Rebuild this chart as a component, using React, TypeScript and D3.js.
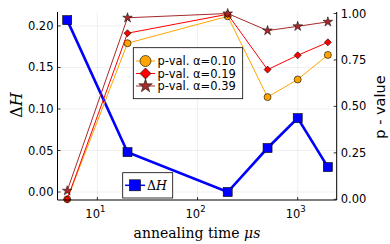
import React from 'react';
import * as d3 from 'd3';

// annealing times (µs)
const times = [5, 20, 200, 500, 1000, 2000];
const deltaH = [0.207, 0.048, 0.0, 0.053, 0.089, 0.030];
const pAlpha010 = [0.0, 0.84, 0.985, 0.55, 0.645, 0.777];
const pAlpha019 = [0.0, 0.894, 0.996, 0.698, 0.775, 0.845];
const pAlpha039 = [0.046, 0.977, 1.0, 0.908, 0.931, 0.955];
const leftTicks = [0.0, 0.05, 0.1, 0.15, 0.2];
const rightTicks = [0.0, 0.25, 0.5, 0.75, 1.0];
const xTicks = [10, 100, 1000];

const W = 390;
const H = 244;
const sans = 'DejaVu Sans, sans-serif';
const serif = 'DejaVu Serif, serif';

const left = 57.5, right = 336.7, top = 12, bottom = 200;

const x = d3.scaleLog().domain([4.0, 2450]).range([left, right]);
const yL = d3.scaleLinear().domain([-0.0096, 0.2168]).range([bottom, top]);
const yR = d3.scaleLinear().domain([0, 1]).range([199.3, 13.5]);

const pSeries = [
  { name: 'p-val. α=0.10', values: pAlpha010, color: '#FFA500', shape: 'circle' },
  { name: 'p-val. α=0.19', values: pAlpha019, color: '#FF0000', shape: 'diamond' },
  { name: 'p-val. α=0.39', values: pAlpha039, color: '#A52A2A', shape: 'star' },
];

function Marker({ shape, cx, cy, color, s }: { shape: string; cx: number; cy: number; color: string; s: number }) {
  if (shape === 'circle') {
    return <circle cx={cx} cy={cy} r={s / 2} fill={color} stroke="#000" strokeWidth={0.6} />;
  }
  if (shape === 'diamond') {
    const h = s / 2;
    return (
      <path
        d={`M${cx},${cy - h}L${cx + h},${cy}L${cx},${cy + h}L${cx - h},${cy}Z`}
        fill={color}
        stroke="#000"
        strokeWidth={0.6}
      />
    );
  }
  if (shape === 'square') {
    const h = s / 2;
    return <rect x={cx - h} y={cy - h} width={s} height={s} fill={color} stroke="#000" strokeWidth={0.6} />;
  }
  const star = d3.symbol().type(d3.symbolStar).size(s * s * 0.4)();
  return <path d={star || ''} transform={`translate(${cx},${cy})`} fill={color} stroke="#000" strokeWidth={0.5} />;
}

export default function App() {
  const lineL = d3.line<number>().x((_, i) => x(times[i])).y((d) => yL(d));
  const lineR = d3.line<number>().x((_, i) => x(times[i])).y((d) => yR(d));

  return (
    <div style={{ position: 'fixed', left: 0, top: 0 }}>
      <svg width={W} height={H} style={{ display: 'block', background: '#fff' }}>
        {/* grid */}
        {xTicks.map((t) => (
          <line key={'gx' + t} x1={x(t)} x2={x(t)} y1={top} y2={bottom} stroke="#000" strokeOpacity={0.1} strokeWidth={0.6} />
        ))}
        {leftTicks.map((t) => (
          <line key={'gy' + t} x1={left} x2={right} y1={yL(t)} y2={yL(t)} stroke="#000" strokeOpacity={0.1} strokeWidth={0.6} />
        ))}

        {/* ΔH series */}
        <path d={lineL(deltaH) || ''} fill="none" stroke="#0000FF" strokeWidth={2.6} />
        {deltaH.map((d, i) => (
          <Marker key={'dh' + i} shape="square" cx={x(times[i])} cy={yL(d)} color="#0000FF" s={9} />
        ))}

        {/* ΔH legend */}
        <rect x={122.7} y={172.7} width={50} height={25.3} fill="#fff" stroke="#000" strokeWidth={0.8} />
        <line x1={125} x2={145} y1={185.3} y2={185.3} stroke="#0000FF" strokeWidth={1.5} />
        <Marker shape="square" cx={135} cy={185.3} color="#0000FF" s={11} />
        <text x={147} y={190} fontFamily={serif} fontSize={12.5}>
          Δ<tspan fontStyle="italic">H</tspan>
        </text>

        {/* p-value series */}
        {pSeries.map((s) => (
          <g key={s.name}>
            <path d={lineR(s.values) || ''} fill="none" stroke={s.color} strokeWidth={1} />
            {s.values.map((v, i) => (
              <Marker key={i} shape={s.shape} cx={x(times[i])} cy={yR(v)} color={s.color} s={s.shape === 'star' ? 8.5 : 7} />
            ))}
          </g>
        ))}

        {/* p-value legend */}
        <rect x={133.3} y={47.7} width={109.4} height={51} fill="#fff" stroke="#000" strokeWidth={0.8} />
        {pSeries.map((s, i) => {
          const cy = 61 + i * 12.5;
          return (
            <g key={'leg' + i}>
              <line x1={136} x2={155} y1={cy} y2={cy} stroke={s.color} strokeWidth={1} />
              <Marker shape={s.shape} cx={145.5} cy={cy} color={s.color} s={s.shape === 'star' ? 12 : 11} />
              <text x={157.5} y={cy + 4} fontFamily={sans} fontSize={11.5}>
                {s.name}
              </text>
            </g>
          );
        })}

        {/* axes */}
        <line x1={left} x2={left} y1={top} y2={bottom} stroke="#000" strokeWidth={1} />
        <line x1={left} x2={right} y1={bottom} y2={bottom} stroke="#000" strokeWidth={1} />
        <line x1={right} x2={right} y1={top} y2={bottom} stroke="#000" strokeWidth={1} />

        {leftTicks.map((t) => (
          <g key={'lt' + t}>
            <line x1={left} x2={left + 3} y1={yL(t)} y2={yL(t)} stroke="#000" strokeWidth={0.8} />
            <text x={left - 4} y={yL(t) + 4} textAnchor="end" fontFamily={sans} fontSize={11.5}>
              {d3.format('.2f')(t)}
            </text>
          </g>
        ))}
        {rightTicks.map((t) => (
          <g key={'rt' + t}>
            <line x1={right - 3} x2={right} y1={yR(t)} y2={yR(t)} stroke="#000" strokeWidth={0.8} />
            <text x={right + 4} y={yR(t) + 4} fontFamily={sans} fontSize={11.5}>
              {d3.format('.2f')(t)}
            </text>
          </g>
        ))}
        {xTicks.map((t) => (
          <g key={'xt' + t}>
            <line x1={x(t)} x2={x(t)} y1={bottom} y2={bottom - 3} stroke="#000" strokeWidth={0.8} />
            <text x={x(t) - 2} y={218} textAnchor="middle" fontFamily={sans} fontSize={11.5}>
              10
              <tspan dy={-6} fontSize={8.5}>
                {Math.round(Math.log10(t))}
              </tspan>
            </text>
          </g>
        ))}

        {/* axis labels */}
        <text x={197} y={238} textAnchor="middle" fontFamily={serif} fontSize={14}>
          annealing time <tspan fontStyle="italic">μs</tspan>
        </text>
        <text transform="translate(22,105) rotate(-90)" textAnchor="middle" fontFamily={serif} fontSize={16}>
          Δ<tspan fontStyle="italic">H</tspan>
        </text>
        <text transform="translate(385,107) rotate(-90)" textAnchor="middle" fontFamily={sans} fontSize={14.5}>
          p - value
        </text>
      </svg>
    </div>
  );
}
